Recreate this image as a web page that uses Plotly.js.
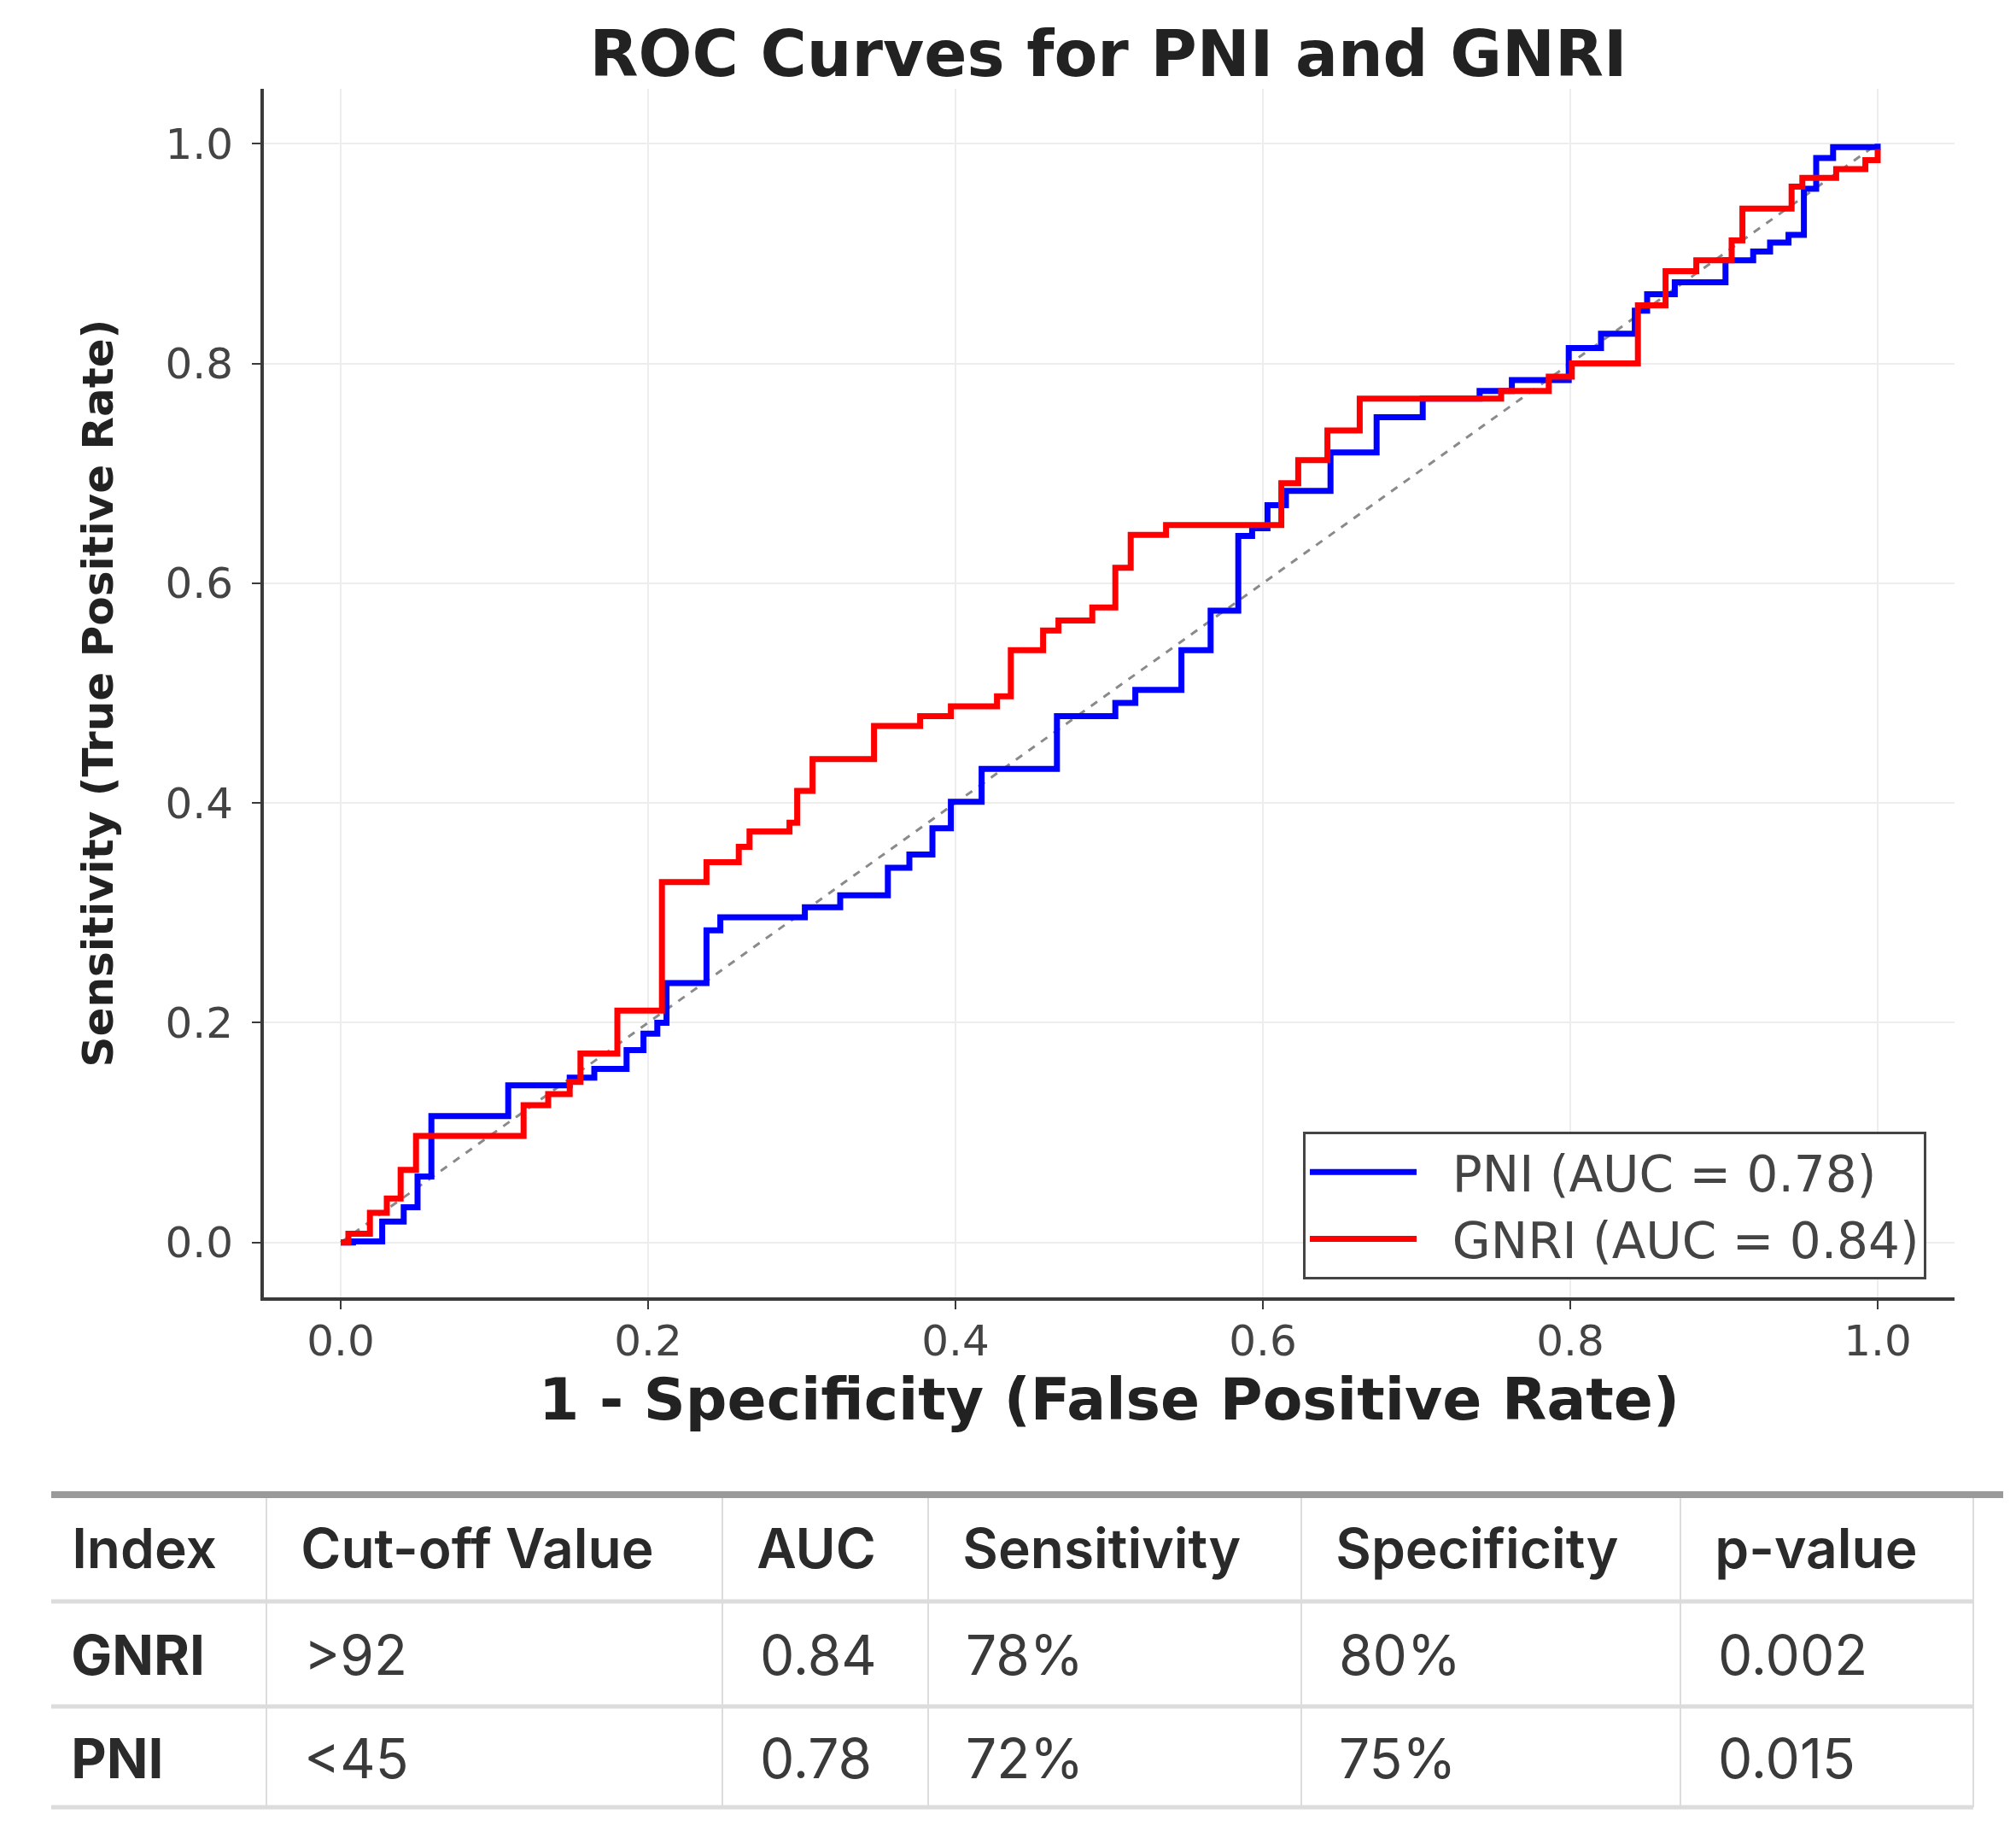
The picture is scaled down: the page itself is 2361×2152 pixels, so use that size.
<!DOCTYPE html>
<html>
<head>
<meta charset="utf-8">
<script src="https://cdn.plot.ly/plotly-3.0.1.min.js"></script>
<style>
  html, body { margin: 0; padding: 0; background: #ffffff; }
  #chart { width: 2361px; height: 2152px; }
</style>
</head>
<body>
<div id="chart"></div>
<script>
// ROC curve corner points (x = 1 - specificity, y = sensitivity)
const fprPNI = [0, 0.008, 0.027, 0.041, 0.050, 0.059, 0.109, 0.149, 0.165, 0.186, 0.197, 0.206, 0.212, 0.238, 0.247, 0.302, 0.325, 0.356, 0.370, 0.385, 0.397, 0.417, 0.466, 0.504, 0.517, 0.547, 0.566, 0.584, 0.593, 0.603, 0.615, 0.644, 0.674, 0.704, 0.741, 0.762, 0.799, 0.820, 0.842, 0.850, 0.868, 0.901, 0.919, 0.930, 0.942, 0.952, 0.960, 0.971, 1.0];
const tprPNI = [0, 0.001, 0.019, 0.032, 0.060, 0.115, 0.143, 0.150, 0.158, 0.175, 0.190, 0.200, 0.236, 0.284, 0.296, 0.305, 0.316, 0.341, 0.353, 0.377, 0.401, 0.431, 0.479, 0.491, 0.503, 0.539, 0.575, 0.643, 0.650, 0.671, 0.684, 0.719, 0.751, 0.768, 0.775, 0.785, 0.814, 0.827, 0.848, 0.863, 0.874, 0.894, 0.902, 0.910, 0.917, 0.959, 0.987, 0.997, 1.0];

const fprGNRI = [0, 0.005, 0.019, 0.030, 0.039, 0.049, 0.119, 0.135, 0.149, 0.156, 0.180, 0.209, 0.238, 0.259, 0.266, 0.292, 0.297, 0.307, 0.347, 0.377, 0.397, 0.427, 0.436, 0.457, 0.467, 0.489, 0.504, 0.514, 0.537, 0.612, 0.623, 0.642, 0.663, 0.755, 0.786, 0.801, 0.844, 0.862, 0.882, 0.905, 0.912, 0.944, 0.951, 0.973, 0.992, 1.0];
const tprGNRI = [0, 0.008, 0.027, 0.040, 0.066, 0.097, 0.125, 0.135, 0.146, 0.172, 0.211, 0.328, 0.346, 0.360, 0.374, 0.382, 0.411, 0.440, 0.470, 0.479, 0.488, 0.497, 0.539, 0.557, 0.566, 0.578, 0.614, 0.644, 0.653, 0.691, 0.712, 0.739, 0.768, 0.775, 0.788, 0.800, 0.853, 0.884, 0.894, 0.912, 0.941, 0.961, 0.969, 0.977, 0.985, 0.995];

const chanceX = [0, 1];
const chanceY = [0, 1];

const legendPNI = 'PNI (AUC = 0.78)';
const legendGNRI = 'GNRI (AUC = 0.84)';

const axisTicks = [0, 0.2, 0.4, 0.6, 0.8, 1.0];
const axisTickText = ['0.0', '0.2', '0.4', '0.6', '0.8', '1.0'];

// Summary table
const tableHeader = ['Index', 'Cut-off Value', 'AUC', 'Sensitivity', 'Specificity', 'p-value'];
const indexCol = ['GNRI', 'PNI'];
const cutoffCol = ['>92', '<45'];
const aucCol = ['0.84', '0.78'];
const sensCol = ['78%', '72%'];
const specCol = ['80%', '75%'];
const pCol = ['0.002', '0.015'];

const W = 2361, H = 2152;
function fx(px) { return px / W; }
function fy(py) { return 1 - py / H; }
function esc(s) { return s.replace(/&/g, '&amp;').replace(/</g, '&lt;').replace(/>/g, '&gt;'); }
// every cell goes through the same rich-text path so all rows line up
function cell(s, padN) { return '<span>' + '\u00a0'.repeat(padN) + esc(s) + '</span>'; }

// table grid geometry (pixels of the page)
const colEdges = [60, 312, 846, 1087, 1524, 1968, 2311];
const rowEdges = [1750, 1875, 1998, 2116];
const colWidths = colEdges.slice(1).map((e, i) => e - colEdges[i]);
const tableShift = 16;

const traces = [
  { x: chanceX, y: chanceY, type: 'scatter', mode: 'lines', showlegend: false, hoverinfo: 'skip',
    line: { color: '#8a8a8a', width: 3, dash: 'dash' } },
  { x: fprPNI, y: tprPNI, type: 'scatter', mode: 'lines', name: '\u00a0\u00a0' + legendPNI,
    line: { color: '#0000ff', width: 7, shape: 'hv' } },
  { x: fprGNRI, y: tprGNRI, type: 'scatter', mode: 'lines', name: '\u00a0\u00a0' + legendGNRI,
    line: { color: '#ff0000', width: 7, shape: 'hv' } },
  { type: 'table',
    domain: { x: [fx(colEdges[0]), fx(colEdges[6])], y: [0, fy(rowEdges[0] + tableShift)] },
    columnwidth: colWidths,
    header: {
      values: tableHeader.map((h, i) => cell(h, i === 0 ? 1 : 2)),
      height: rowEdges[1] - rowEdges[0], align: 'left',
      fill: { color: 'rgba(0,0,0,0)' },
      line: { color: 'rgba(0,0,0,0)', width: 0 },
      font: { family: 'Inter, Roboto, sans-serif', size: 64, color: '#2a2a2a', weight: 600 }
    },
    cells: {
      values: [indexCol.map(v => cell(v, 1)), cutoffCol.map(v => cell(v, 2)),
               aucCol.map(v => cell(v, 2)), sensCol.map(v => cell(v, 2)),
               specCol.map(v => cell(v, 2)), pCol.map(v => cell(v, 2))],
      height: 121, align: 'left',
      fill: { color: 'rgba(0,0,0,0)' },
      line: { color: 'rgba(0,0,0,0)', width: 0 },
      font: { family: 'Inter, Roboto, sans-serif', size: 64,
              color: ['#2a2a2a', '#3a3a3a', '#3a3a3a', '#3a3a3a', '#3a3a3a', '#3a3a3a'],
              weight: [700, 400, 400, 400, 400, 400] }
    }
  }
];

// table rule lines
const shapes = [];
shapes.push({ type: 'line', xref: 'paper', yref: 'paper', layer: 'above',
  x0: fx(60), x1: fx(2346), y0: fy(rowEdges[0]), y1: fy(rowEdges[0]),
  line: { color: '#9a9a9a', width: 8 } });
rowEdges.slice(1).forEach(r => shapes.push({ type: 'line', xref: 'paper', yref: 'paper', layer: 'above',
  x0: fx(colEdges[0]), x1: fx(colEdges[6]), y0: fy(r), y1: fy(r),
  line: { color: '#dcdcdc', width: 5 } }));
colEdges.slice(1).forEach(c => shapes.push({ type: 'line', xref: 'paper', yref: 'paper', layer: 'above',
  x0: fx(c), x1: fx(c), y0: fy(rowEdges[0] + 4), y1: fy(rowEdges[3]),
  line: { color: '#dcdcdc', width: 2 } }));

const layout = {
  width: W, height: H,
  paper_bgcolor: '#ffffff', plot_bgcolor: '#ffffff',
  margin: { l: 0, r: 0, t: 0, b: 0 },
  title: { text: '<b>ROC Curves for PNI and GNRI</b>', x: fx(1298), xref: 'container', xanchor: 'center',
           y: fy(63), yref: 'container', yanchor: 'middle',
           font: { family: 'DejaVu Sans', size: 74, color: '#222222' } },
  xaxis: {
    domain: [fx(309), fx(2289)],
    range: [-0.05, 1.05], tickvals: axisTicks, ticktext: axisTickText,
    showgrid: true, gridcolor: '#ededed', gridwidth: 2, zeroline: false,
    showline: true, linecolor: '#3a3a3a', linewidth: 4,
    ticks: 'outside', ticklen: 10, tickwidth: 2, tickcolor: '#3a3a3a',
    tickfont: { family: 'DejaVu Sans', size: 50, color: '#444444' },
    ticklabelstandoff: -6,
    automargin: true,
    title: { text: '<b>1 - Specificity (False Positive Rate)</b>', standoff: 0,
             font: { family: 'DejaVu Sans', size: 68, color: '#222222' } }
  },
  yaxis: {
    domain: [fy(1519), fy(104)],
    range: [-0.05, 1.05], tickvals: axisTicks, ticktext: axisTickText,
    showgrid: true, gridcolor: '#ededed', gridwidth: 2, zeroline: false,
    showline: true, linecolor: '#3a3a3a', linewidth: 4,
    ticks: 'outside', ticklen: 10, tickwidth: 2, tickcolor: '#3a3a3a',
    tickfont: { family: 'DejaVu Sans', size: 50, color: '#444444' },
    ticklabelstandoff: 12,
    automargin: true,
    title: { text: '<b>Sensitivity (True Positive Rate)</b>', standoff: 46,
             font: { family: 'DejaVu Sans', size: 50, color: '#222222' } }
  },
  legend: {
    x: fx(2256), y: fy(1498), xref: 'paper', yref: 'paper', xanchor: 'right', yanchor: 'bottom',
    bgcolor: '#ffffff', bordercolor: '#444444', borderwidth: 3,
    font: { family: 'DejaVu Sans', size: 58, color: '#444444' },
    itemwidth: 125, tracegroupgap: 0
  },
  shapes: shapes
};

Plotly.newPlot('chart', traces, layout, { displayModeBar: false, staticPlot: true });
</script>
</body>
</html>
